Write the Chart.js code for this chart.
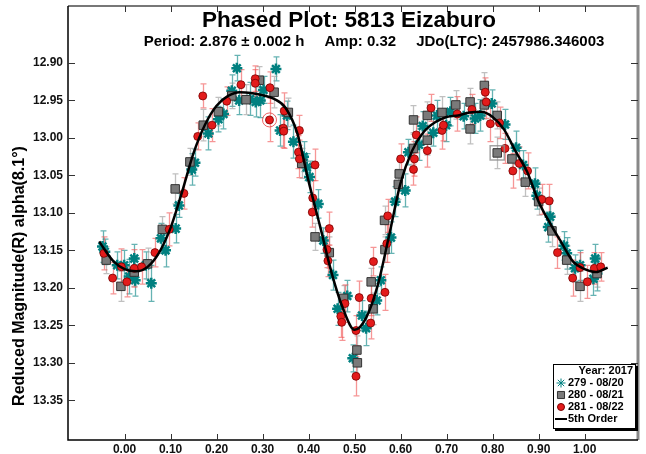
<!DOCTYPE html>
<html>
<head>
<meta charset="utf-8">
<script src="https://cdn.jsdelivr.net/npm/chart.js@4.4.0/dist/chart.umd.min.js"></script>
<style>
  html, body { margin: 0; padding: 0; background: #fff; }
  #wrap { width: 646px; height: 454px; }
</style>
</head>
<body>
<div id="wrap"><canvas id="myChart" width="646" height="454"></canvas></div>
<script>
// phased lightcurve of 5813 Eizaburo

const xTicks = [0.0, 0.1, 0.2, 0.3, 0.4, 0.5, 0.6, 0.7, 0.8, 0.9, 1.0];
const yTicks = [12.90, 12.95, 13.00, 13.05, 13.10, 13.15, 13.20, 13.25, 13.30, 13.35];

// session 279 - 08/20
const phase279 = [-0.048, -0.043, -0.016, -0.001, 0.010, 0.021, 0.023, 0.046, 0.058, 0.079, 0.089, 0.111, 0.118, 0.146, 0.153, 0.182, 0.204, 0.215, 0.233, 0.244, 0.249, 0.273, 0.285, 0.295, 0.302, 0.329, 0.338, 0.353, 0.367, 0.389, 0.396, 0.402, 0.421, 0.432, 0.453, 0.463, 0.484, 0.496, 0.516, 0.525, 0.548, 0.557, 0.579, 0.588, 0.610, 0.617, 0.640, 0.648, 0.671, 0.679, 0.699, 0.708, 0.737, 0.762, 0.773, 0.798, 0.827, 0.851, 0.866, 0.892, 0.896, 0.921, 0.925, 0.955, 0.961, 0.979, 0.990, 1.019, 1.023, 1.027];
const mag279 = [13.145, 13.152, 13.170, 13.170, 13.185, 13.161, 13.190, 13.170, 13.194, 13.134, 13.150, 13.121, 13.090, 13.042, 13.033, 12.994, 12.975, 12.968, 12.937, 12.907, 12.950, 12.948, 12.952, 12.950, 12.936, 12.908, 12.990, 12.970, 13.005, 13.025, 13.039, 13.052, 13.088, 13.137, 13.183, 13.228, 13.211, 13.294, 13.237, 13.254, 13.217, 13.190, 13.133, 13.085, 13.070, 13.019, 13.009, 12.984, 12.993, 12.970, 12.983, 12.965, 12.971, 12.974, 12.970, 12.954, 12.982, 13.013, 13.036, 13.061, 13.077, 13.119, 13.105, 13.144, 13.154, 13.174, 13.170, 13.188, 13.161, 13.181];
const err279 = [0.021, 0.017, 0.018, 0.020, 0.023, 0.019, 0.021, 0.018, 0.024, 0.020, 0.022, 0.019, 0.016, 0.021, 0.018, 0.022, 0.017, 0.020, 0.021, 0.017, 0.019, 0.022, 0.020, 0.023, 0.018, 0.016, 0.021, 0.019, 0.022, 0.020, 0.018, 0.021, 0.019, 0.017, 0.020, 0.022, 0.021, 0.018, 0.020, 0.023, 0.019, 0.018, 0.021, 0.020, 0.022, 0.017, 0.021, 0.019, 0.018, 0.020, 0.022, 0.019, 0.017, 0.020, 0.021, 0.018, 0.020, 0.022, 0.019, 0.021, 0.018, 0.020, 0.022, 0.019, 0.021, 0.018, 0.020, 0.022, 0.019, 0.023];

// session 280 - 08/21
const phase280 = [-0.040, -0.008, 0.021, 0.050, 0.082, 0.110, 0.142, 0.171, 0.204, 0.233, 0.264, 0.293, 0.325, 0.356, 0.385, 0.414, 0.445, 0.476, 0.505, 0.506, 0.536, 0.540, 0.565, 0.566, 0.595, 0.597, 0.628, 0.628, 0.658, 0.658, 0.690, 0.720, 0.751, 0.751, 0.782, 0.782, 0.810, 0.810, 0.842, 0.871, 0.900, 0.929, 0.961, 0.990, 1.027];
const mag280 = [13.163, 13.198, 13.179, 13.168, 13.122, 13.068, 13.032, 12.983, 12.965, 12.944, 12.949, 12.923, 12.939, 12.966, 13.034, 13.132, 13.153, 13.214, 13.283, 13.300, 13.192, 13.228, 13.110, 13.149, 13.062, 13.048, 13.014, 12.976, 13.003, 12.970, 12.966, 12.956, 12.952, 12.988, 12.930, 12.956, 12.970, 13.020, 13.028, 13.059, 13.085, 13.124, 13.163, 13.198, 13.181];
const err280 = [0.018, 0.020, 0.019, 0.021, 0.017, 0.020, 0.018, 0.021, 0.019, 0.017, 0.020, 0.018, 0.021, 0.019, 0.020, 0.018, 0.021, 0.017, 0.019, 0.020, 0.018, 0.021, 0.019, 0.017, 0.020, 0.018, 0.021, 0.019, 0.020, 0.018, 0.021, 0.019, 0.018, 0.020, 0.017, 0.019, 0.018, 0.021, 0.020, 0.019, 0.018, 0.021, 0.019, 0.020, 0.018];

// session 281 - 08/22
const phase281 = [-0.045, -0.026, -0.007, 0.005, 0.021, 0.037, 0.066, 0.097, 0.129, 0.159, 0.170, 0.190, 0.222, 0.253, 0.284, 0.284, 0.316, 0.315, 0.347, 0.345, 0.346, 0.378, 0.380, 0.380, 0.414, 0.409, 0.408, 0.445, 0.440, 0.442, 0.479, 0.470, 0.472, 0.510, 0.503, 0.503, 0.536, 0.535, 0.541, 0.566, 0.572, 0.570, 0.600, 0.630, 0.628, 0.634, 0.658, 0.666, 0.690, 0.693, 0.723, 0.755, 0.784, 0.786, 0.795, 0.815, 0.827, 0.844, 0.858, 0.876, 0.907, 0.923, 0.941, 0.974, 0.990, 1.006, 1.021, 1.035];
const mag281 = [13.154, 13.187, 13.172, 13.192, 13.174, 13.172, 13.153, 13.122, 13.074, 12.998, 12.944, 12.983, 12.951, 12.929, 12.921, 12.927, 12.933, 12.976, 12.964, 12.987, 12.991, 13.019, 12.990, 13.028, 13.036, 13.080, 13.099, 13.121, 13.149, 13.164, 13.221, 13.238, 13.246, 13.213, 13.257, 13.318, 13.214, 13.247, 13.165, 13.206, 13.104, 13.141, 13.028, 13.028, 13.042, 12.996, 13.017, 12.960, 12.990, 12.983, 12.968, 12.962, 12.939, 12.952, 12.981, 12.980, 13.014, 13.044, 13.034, 13.044, 13.082, 13.084, 13.153, 13.187, 13.173, 13.192, 13.174, 13.172];
const err281 = [0.022, 0.021, 0.024, 0.020, 0.025, 0.023, 0.019, 0.022, 0.021, 0.018, 0.016, 0.022, 0.019, 0.020, 0.017, 0.018, 0.021, 0.029, 0.024, 0.026, 0.023, 0.022, 0.020, 0.025, 0.021, 0.023, 0.020, 0.022, 0.024, 0.021, 0.025, 0.028, 0.024, 0.022, 0.020, 0.026, 0.023, 0.021, 0.019, 0.024, 0.022, 0.025, 0.020, 0.023, 0.021, 0.024, 0.022, 0.018, 0.025, 0.021, 0.023, 0.020, 0.019, 0.022, 0.024, 0.021, 0.020, 0.023, 0.022, 0.024, 0.020, 0.022, 0.021, 0.024, 0.020, 0.022, 0.021, 0.019];

// the two ringed observations
const ringPhase281 = [0.315];
const ringMag281 = [12.976];
const ringPhase280 = [0.810];
const ringMag280 = [13.020];

// 5th order Fourier fit
const fitPhase = [-0.055, -0.05, -0.025, 0.0, 0.025, 0.05, 0.075, 0.10, 0.125, 0.15, 0.175, 0.20, 0.225, 0.25, 0.275, 0.30, 0.325, 0.35, 0.375, 0.40, 0.425, 0.45, 0.475, 0.50, 0.525, 0.55, 0.575, 0.60, 0.625, 0.65, 0.675, 0.70, 0.725, 0.75, 0.775, 0.80, 0.825, 0.85, 0.875, 0.90, 0.925, 0.95, 0.975, 1.00, 1.025, 1.05];
const fitMag = [13.138, 13.143, 13.164, 13.175, 13.178, 13.172, 13.153, 13.120, 13.072, 13.020, 12.982, 12.957, 12.944, 12.939, 12.940, 12.943, 12.948, 12.960, 12.993, 13.058, 13.118, 13.180, 13.228, 13.256, 13.240, 13.197, 13.130, 13.060, 13.017, 12.992, 12.979, 12.972, 12.970, 12.966, 12.965, 12.972, 12.989, 13.018, 13.045, 13.085, 13.114, 13.140, 13.165, 13.175, 13.179, 13.173];

const toPoints = (xs, ys) => xs.map((v, i) => ({ x: v, y: ys[i] }));

const TEAL = 'rgb(0,128,128)';
const FONT = '"Liberation Sans", Arial, sans-serif';
const errSeries = [
  { phase: phase279, mag: mag279, err: err279, color: 'rgba(0,128,128,0.6)' },
  { phase: phase280, mag: mag280, err: err280, color: 'rgba(150,150,150,0.6)' },
  { phase: phase281, mag: mag281, err: err281, color: 'rgba(240,80,80,0.6)' },
];

const noPad = (s) => {
  s.paddingTop = 0; s.paddingBottom = 0; s.paddingLeft = 0; s.paddingRight = 0;
};

const decor = {
  id: 'decor',
  beforeDatasetsDraw(chart) {
    const { ctx, chartArea: a, scales: { x, y } } = chart;
    ctx.save();
    ctx.beginPath();
    ctx.rect(a.left, a.top, a.right - a.left, a.bottom - a.top);
    ctx.clip();
    ctx.lineWidth = 1.3;
    errSeries.forEach((s) => {
      ctx.strokeStyle = s.color;
      s.phase.forEach((p, i) => {
        const px = Math.round(x.getPixelForValue(p)) + 0.5;
        const y1 = y.getPixelForValue(s.mag[i] - s.err[i]);
        const y2 = y.getPixelForValue(s.mag[i] + s.err[i]);
        ctx.beginPath();
        ctx.moveTo(px, y1); ctx.lineTo(px, y2);
        ctx.moveTo(px - 3, y1); ctx.lineTo(px + 3, y1);
        ctx.moveTo(px - 3, y2); ctx.lineTo(px + 3, y2);
        ctx.stroke();
      });
    });
    ctx.restore();
  },
  afterDraw(chart) {
    const { ctx, chartArea: a, scales: { x, y } } = chart;
    ctx.save();

    // frame
    ctx.strokeStyle = '#777';
    ctx.lineWidth = 2;
    ctx.beginPath(); ctx.moveTo(a.left, a.top); ctx.lineTo(a.right, a.top); ctx.stroke();
    ctx.strokeStyle = '#888';
    ctx.lineWidth = 3;
    ctx.beginPath(); ctx.moveTo(a.right, a.top - 1); ctx.lineTo(a.right, a.bottom); ctx.stroke();
    ctx.strokeStyle = '#000';
    ctx.lineWidth = 1.5;
    ctx.beginPath();
    ctx.moveTo(a.left, a.top); ctx.lineTo(a.left, a.bottom); ctx.lineTo(a.right, a.bottom);
    ctx.stroke();

    // inward ticks on all four sides
    ctx.strokeStyle = '#333';
    ctx.lineWidth = 1;
    xTicks.forEach((t) => {
      const px = Math.round(x.getPixelForValue(t)) + 0.5;
      ctx.beginPath();
      ctx.moveTo(px, a.bottom); ctx.lineTo(px, a.bottom - 6);
      ctx.moveTo(px, a.top); ctx.lineTo(px, a.top + 6);
      ctx.stroke();
    });
    yTicks.forEach((t) => {
      const py = Math.round(y.getPixelForValue(t)) + 0.5;
      ctx.beginPath();
      ctx.moveTo(a.left, py); ctx.lineTo(a.left + 7, py);
      ctx.moveTo(a.right, py); ctx.lineTo(a.right - 7, py);
      ctx.stroke();
    });

    // titles
    const cx = (a.left + a.right) / 2;
    ctx.fillStyle = '#000';
    ctx.textAlign = 'center';
    ctx.textBaseline = 'middle';
    ctx.font = 'bold 22.5px ' + FONT;
    ctx.fillText('Phased Plot: 5813 Eizaburo', cx - 4, 21);
    ctx.font = 'bold 15px ' + FONT;
    const parts = ['Period: 2.876 \u00b1 0.002 h', 'Amp: 0.32', 'JDo(LTC): 2457986.346003'];
    const gap = 20;
    const widths = parts.map((p) => ctx.measureText(p).width);
    const total = widths.reduce((s, w) => s + w, 0) + gap * (parts.length - 1);
    let tx = 374 - total / 2;
    ctx.textAlign = 'left';
    parts.forEach((p, i) => { ctx.fillText(p, tx, 42); tx += widths[i] + gap; });

    // y axis title
    ctx.save();
    ctx.translate(20, 276);
    ctx.rotate(-Math.PI / 2);
    ctx.textAlign = 'center';
    ctx.font = 'bold 16px ' + FONT;
    ctx.fillText('Reduced Magnitude(R) alpha(8.1\u00b0)', 0, 0);
    ctx.restore();

    // legend box
    const lx = 553, ly = 364, lw = 83, lh = 65;
    ctx.fillStyle = '#000';
    ctx.fillRect(lx + 2, ly + 2, lw, lh);
    ctx.fillStyle = '#fff';
    ctx.fillRect(lx, ly, lw, lh);
    ctx.strokeStyle = '#000';
    ctx.lineWidth = 1;
    ctx.strokeRect(lx + 0.5, ly + 0.5, lw - 1, lh - 1);

    ctx.font = 'bold 11px ' + FONT;
    ctx.fillStyle = '#000';
    ctx.textAlign = 'right';
    ctx.fillText('Year: 2017', lx + lw - 3, ly + 7);
    ctx.textAlign = 'left';
    const rows = [
      { label: '279 - 08/20', style: 'star', fill: TEAL, stroke: TEAL, r: 4.5, bw: 2.2 },
      { label: '280 - 08/21', style: 'rect', fill: '#7a7a7a', stroke: '#333', r: 5, bw: 1 },
      { label: '281 - 08/22', style: 'circle', fill: '#e31b1b', stroke: '#7a0000', r: 3.5, bw: 1 },
    ];
    rows.forEach((r, i) => {
      const ry = ly + 19 + i * 12;
      ctx.fillStyle = r.fill;
      ctx.strokeStyle = r.stroke;
      Chart.helpers.drawPoint(ctx, { pointStyle: r.style, radius: r.r, borderWidth: r.bw }, lx + 8, ry);
      ctx.fillStyle = '#000';
      ctx.fillText(r.label, lx + 15, ry);
    });
    const ly5 = ly + 55;
    ctx.strokeStyle = '#000';
    ctx.lineWidth = 2;
    ctx.beginPath(); ctx.moveTo(lx + 2, ly5); ctx.lineTo(lx + 14, ly5); ctx.stroke();
    ctx.fillStyle = '#000';
    ctx.fillText('5th Order', lx + 15, ly5);

    ctx.restore();
  },
};

new Chart(document.getElementById('myChart'), {
  type: 'scatter',
  data: {
    datasets: [
      {
        label: '5th Order',
        type: 'line',
        data: toPoints(fitPhase, fitMag),
        borderColor: '#000',
        borderWidth: 2.5,
        pointRadius: 0,
        cubicInterpolationMode: 'monotone',
        fill: false,
        order: 0,
      },
      {
        label: 'ring 281',
        data: toPoints(ringPhase281, ringMag281),
        pointStyle: 'circle',
        pointRadius: 7,
        pointBackgroundColor: 'rgba(0,0,0,0)',
        pointBorderColor: 'rgba(230,60,60,0.8)',
        pointBorderWidth: 1,
        order: 1,
      },
      {
        label: 'ring 280',
        data: toPoints(ringPhase280, ringMag280),
        pointStyle: 'rect',
        pointRadius: 10,
        pointBackgroundColor: 'rgba(0,0,0,0)',
        pointBorderColor: 'rgba(140,140,140,0.8)',
        pointBorderWidth: 1.5,
        order: 1,
      },
      {
        label: '281 - 08/22',
        data: toPoints(phase281, mag281),
        pointStyle: 'circle',
        pointRadius: 4,
        pointBackgroundColor: '#e31b1b',
        pointBorderColor: '#7a0000',
        pointBorderWidth: 0.8,
        order: 2,
      },
      {
        label: '280 - 08/21',
        data: toPoints(phase280, mag280),
        pointStyle: 'rect',
        pointRadius: 6,
        pointBackgroundColor: '#7a7a7a',
        pointBorderColor: '#333',
        pointBorderWidth: 1,
        order: 3,
      },
      {
        label: '279 - 08/20',
        data: toPoints(phase279, mag279),
        pointStyle: 'star',
        pointRadius: 5.5,
        pointBackgroundColor: TEAL,
        pointBorderColor: TEAL,
        pointBorderWidth: 2.5,
        order: 4,
      },
    ],
  },
  options: {
    responsive: false,
    animation: false,
    devicePixelRatio: 1,
    layout: { autoPadding: false, padding: { top: 6, right: 8, left: 0, bottom: 0 } },
    plugins: { legend: { display: false }, tooltip: { enabled: false } },
    scales: {
      x: {
        type: 'linear',
        min: -0.123,
        max: 1.116,
        afterFit: (s) => { s.height = 14; noPad(s); },
        afterBuildTicks: (s) => { s.ticks = xTicks.map((v) => ({ value: v })); },
        grid: { display: false, drawTicks: false },
        border: { display: false },
        ticks: {
          padding: 2,
          color: '#111',
          font: { family: FONT, size: 12, weight: 'bold' },
          callback: (v) => Number(v).toFixed(2),
        },
      },
      y: {
        type: 'linear',
        reverse: true,
        min: 12.824,
        max: 13.403,
        afterFit: (s) => { s.width = 68; noPad(s); },
        afterBuildTicks: (s) => { s.ticks = yTicks.map((v) => ({ value: v })); },
        grid: { display: false, drawTicks: false },
        border: { display: false },
        ticks: {
          padding: 5,
          color: '#111',
          font: { family: FONT, size: 12, weight: 'bold' },
          callback: (v) => Number(v).toFixed(2),
        },
      },
    },
  },
  plugins: [decor],
});
</script>
</body>
</html>
